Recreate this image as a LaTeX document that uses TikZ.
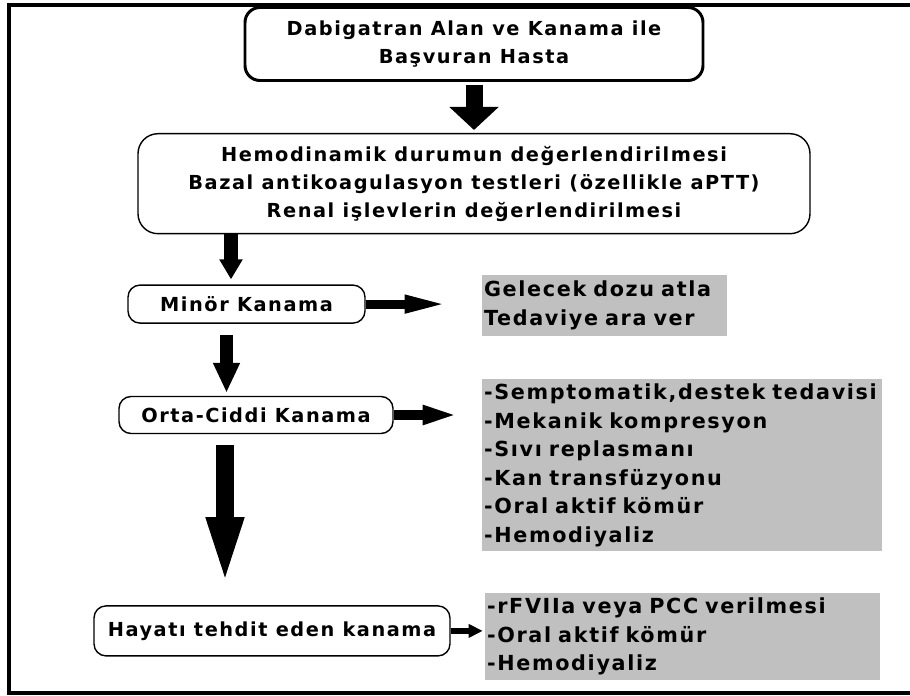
\documentclass[tikz,border=0pt]{standalone}
\usepackage{fontspec}
\setmainfont{DejaVu Sans}[LetterSpace=8]
\usetikzlibrary{positioning,arrows.meta}
\definecolor{treatgray}{HTML}{C0C0C0}

\begin{document}
\begin{tikzpicture}

  % Definitions
  \tikzstyle{Stage} = [rectangle, rounded corners=0.24cm, draw=black, line width=0.8pt, align=center, inner sep=0pt, font=\fontsize{11pt}{16pt}\selectfont\bfseries]
  \tikzstyle{Treatment} = [rectangle, fill=treatgray, align=left, inner xsep=0.04cm, inner ysep=0pt, font=\fontsize{11.8pt}{16.2pt}\selectfont\bfseries]
  \tikzset{arrow/.style n args={3}{draw=black, line width=#1, -{Triangle[width=#2,length=#3]}}}

  \useasboundingbox (0,0) rectangle (18.2,-13.92);
  \draw [line width=0.08cm] (18.6,-0.10) -- (0.18,-0.10) -- (0.18,-13.86) -- (18.6,-13.86);

  \node (hasta) [Stage, line width=1.7pt, rounded corners=0.3cm, minimum width=9.16cm, minimum height=1.46cm] at (9.48,-0.88) {Dabigatran Alan ve Kanama ile\\Başvuran Hasta};
  \node (degerlendirme) [Stage, rounded corners=0.4cm, minimum width=13.44cm, minimum height=2.0cm, below=1.02cm of hasta] {Hemodinamik durumun değerlendirilmesi\\Bazal antikoagulasyon testleri (özellikle aPTT)\\Renal işlevlerin değerlendirilmesi};
  \node (minor) [Stage, minimum width=4.74cm, minimum height=0.76cm, below=1.0cm of degerlendirme.south west, anchor=north west, xshift=-0.2cm] {Minör Kanama};
  \node (orta) [Stage, minimum width=5.48cm, minimum height=0.74cm, below=1.44cm of minor.south west, anchor=north west, xshift=-0.18cm] {Orta-Ciddi Kanama};
  \node (hayati) [Stage, minimum width=7.12cm, minimum height=1.0cm, below=3.42cm of orta.south west, anchor=north west, xshift=-0.5cm] {Hayatı tehdit eden kanama};

  \node (atla) [Treatment, text width=4.82cm, minimum height=1.22cm, right=2.32cm of minor.north east, anchor=north west, yshift=0.2cm] {Gelecek dozu atla\\Tedaviye ara ver};
  \node (destek) [Treatment, text width=7.92cm, minimum height=3.44cm, below=0.86cm of atla.south west, anchor=north west] {-Semptomatik,destek tedavisi\\-Mekanik kompresyon\\-Sıvı replasmanı\\-Kan transfüzyonu\\-Oral aktif kömür\\-Hemodiyaliz};
  \node (kompleks) [Treatment, text width=7.82cm, minimum height=1.74cm, below=0.82cm of destek.south west, anchor=north west, xshift=0.06cm] {-rFVIIa veya PCC verilmesi\\-Oral aktif kömür\\-Hemodiyaliz};

  \coordinate (a2) at ([xshift=-0.31cm]minor.north);
  \coordinate (a3) at ([xshift=-0.4cm]minor.south);
  \coordinate (a4) at ([xshift=-0.62cm]orta.south);

  \draw [arrow={0.34cm}{0.96cm}{0.46cm}, shorten <=0.06cm, shorten >=0.06cm] (hasta.south) -- (hasta.south |- degerlendirme.north);
  \draw [arrow={0.28cm}{0.44cm}{0.4cm}, shorten >=0.1cm] (a2 |- degerlendirme.south) -- (a2);
  \draw [arrow={0.26cm}{0.5cm}{0.6cm}, shorten <=0.22cm, shorten >=0.06cm] (a3) -- (a3 |- orta.north);
  \draw [arrow={0.36cm}{0.64cm}{1.48cm}, shorten <=0.22cm, shorten >=0.28cm] (a4) -- (a4 |- hayati.north);

  \draw [arrow={0.18cm}{0.32cm}{0.9cm}, shorten >=0.64cm] (minor.east) -- (minor.east -| atla.west);
  \draw [arrow={0.2cm}{0.34cm}{0.74cm}, shorten >=0.44cm] (orta.east) -- (orta.east -| destek.west);
  \draw [arrow={0.12cm}{0.26cm}{0.28cm}, shorten >=0.04cm] (hayati.east) -- (hayati.east -| kompleks.west);

\end{tikzpicture}
\end{document}
